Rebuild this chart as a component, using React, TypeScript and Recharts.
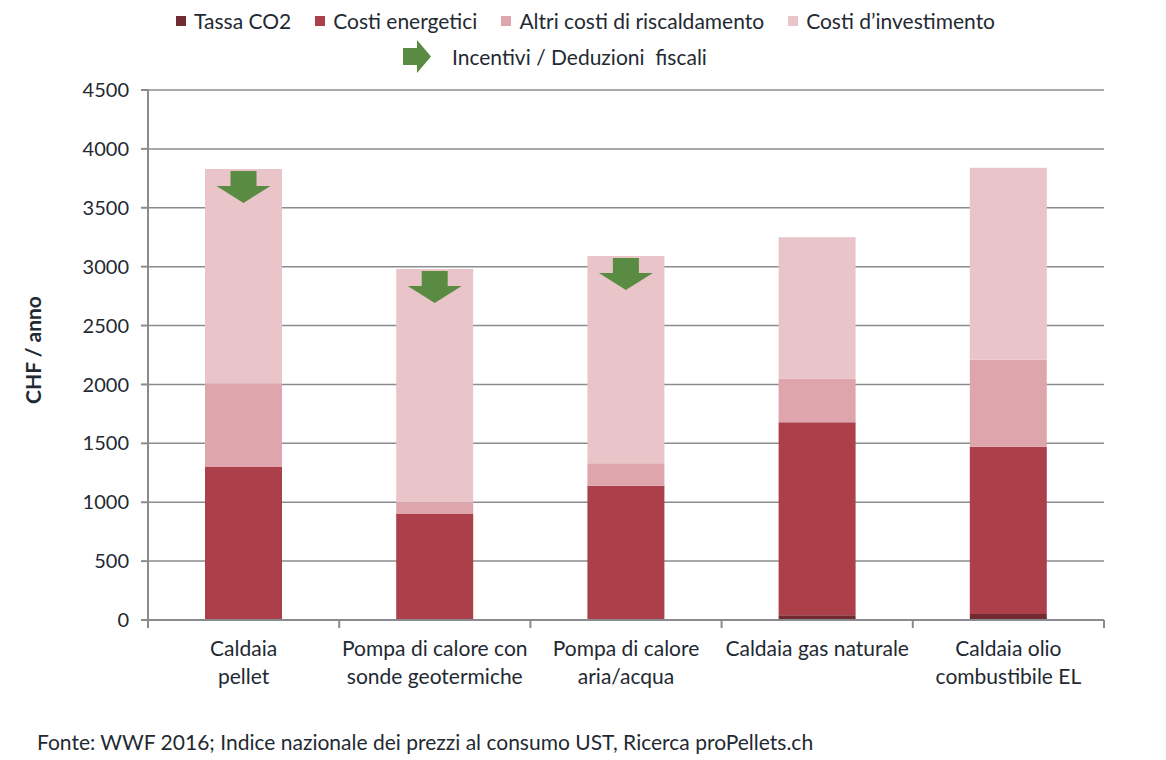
import React from "react";
import { BarChart, Bar, XAxis, YAxis, CartesianGrid, LabelList } from "recharts";

const categories = [
  "Caldaia\npellet",
  "Pompa di calore con\nsonde geotermiche",
  "Pompa di calore\naria/acqua",
  "Caldaia gas naturale",
  "Caldaia olio\ncombustibile EL",
];
const tassaCO2 = [0, 0, 0, 40, 50];
const costiEnergetici = [1300, 900, 1140, 1640, 1420];
const altriCosti = [710, 100, 190, 370, 740];
const costiInvestimento = [1820, 1980, 1760, 1200, 1630];
const incentivi = [true, true, true, false, false];
const yTicks = [0, 500, 1000, 1500, 2000, 2500, 3000, 3500, 4000, 4500];
// positions on a 0..5 axis: integers are the category edges, halves the category centres
const edgeTicks = [0, 0.5, 1, 1.5, 2, 2.5, 3, 3.5, 4, 4.5, 5];

const data = categories.map((name, i) => ({
  name,
  pos: i + 0.5,
  co2: tassaCO2[i],
  energia: costiEnergetici[i],
  altri: altriCosti[i],
  invest: costiInvestimento[i],
}));

const FONT = "Lato, 'Open Sans', sans-serif";
const TEXT = "#1f2a33";
const GRID = "#898b8e";
const GREEN = "#5a8b43";

const legendItems = [
  { label: "Tassa CO2", color: "#722a33" },
  { label: "Costi energetici", color: "#ab404b" },
  { label: "Altri costi di riscaldamento", color: "#dea6ac" },
  { label: "Costi d\u2019investimento", color: "#e9c5c9" },
];

function EdgeTick(props: any) {
  const { x, y, payload } = props;
  const v = Number(payload.value);
  if (Number.isInteger(v)) {
    return <line x1={x} x2={x} y1={y - 8} y2={y} stroke={GRID} strokeWidth={2} />;
  }
  const lines = categories[Math.floor(v)].split("\n");
  return (
    <text x={x} y={y + 28} textAnchor="middle" fill={TEXT} fontSize={21} fontFamily={FONT}>
      {lines.map((l, i) => (
        <tspan key={i} x={x} dy={i === 0 ? 0 : 28}>
          {l}
        </tspan>
      ))}
    </text>
  );
}

function ArrowLabel(props: any) {
  const { x, y, width, index } = props;
  if (!incentivi[index]) return null;
  const cx = x + width / 2;
  const top = y + 2;
  const pts = [
    [cx - 13, top],
    [cx + 13, top],
    [cx + 13, top + 15],
    [cx + 27, top + 15],
    [cx, top + 32],
    [cx - 27, top + 15],
    [cx - 13, top + 15],
  ]
    .map((p) => p.join(","))
    .join(" ");
  return <polygon points={pts} fill={GREEN} />;
}

export default function App() {
  return (
    <div style={{ position: "absolute", left: 0, top: 0, width: 1166, height: 760, background: "#fff", fontFamily: FONT, color: TEXT }}>
      <div style={{ position: "absolute", left: 176, top: 8, display: "flex", gap: 24, fontSize: 21, whiteSpace: "nowrap" }}>
        {legendItems.map((it) => (
          <div key={it.label} style={{ display: "flex", alignItems: "center", gap: 8 }}>
            <span style={{ display: "inline-block", width: 10, height: 10, background: it.color }} />
            <span>{it.label}</span>
          </div>
        ))}
      </div>
      <div style={{ position: "absolute", left: 403, top: 40, display: "flex", alignItems: "center", fontSize: 21, whiteSpace: "nowrap" }}>
        <svg width={28} height={33}>
          <polygon points="0,8 14,8 14,0 28,16.5 14,33 14,25 0,25" fill={GREEN} />
        </svg>
        <span style={{ marginLeft: 21 }}>Incentivi / Deduzioni&nbsp; fiscali</span>
      </div>
      <div
        style={{
          position: "absolute",
          left: 32,
          top: 350,
          transform: "translate(-50%, -50%) rotate(-90deg)",
          fontSize: 21,
          fontWeight: 700,
          whiteSpace: "nowrap",
        }}
      >
        CHF / anno
      </div>
      <div style={{ position: "absolute", left: 37, top: 729, fontSize: 21, whiteSpace: "nowrap" }}>
        Fonte: WWF 2016; Indice nazionale dei prezzi al consumo UST, Ricerca proPellets.ch
      </div>
      <BarChart
        width={1166}
        height={760}
        data={data}
        margin={{ top: 90, right: 62, left: 0, bottom: 80 }}
        style={{ position: "absolute", left: 0, top: 0 }}
      >
        <CartesianGrid horizontal vertical={false} stroke={GRID} strokeWidth={1.5} />
        <XAxis dataKey="name" hide height={0} />
        <XAxis
          xAxisId="edge"
          dataKey="pos"
          type="number"
          domain={[0, 5]}
          ticks={edgeTicks}
          interval={0}
          height={60}
          tick={<EdgeTick />}
          tickLine={false}
          axisLine={{ stroke: GRID, strokeWidth: 2 }}
          allowDataOverflow
        />
        <YAxis
          width={148}
          domain={[0, 4500]}
          ticks={yTicks}
          interval={0}
          tickSize={7}
          tickMargin={12}
          axisLine={{ stroke: GRID, strokeWidth: 2 }}
          tickLine={{ stroke: GRID, strokeWidth: 2 }}
          tick={{ fill: TEXT, fontSize: 20, fontFamily: FONT }}
        />
        <Bar dataKey="co2" stackId="a" fill="#722a33" barSize={77} isAnimationActive={false} />
        <Bar dataKey="energia" stackId="a" fill="#ab404b" barSize={77} isAnimationActive={false} />
        <Bar dataKey="altri" stackId="a" fill="#dea6ac" barSize={77} isAnimationActive={false} />
        <Bar dataKey="invest" stackId="a" fill="#e9c5c9" barSize={77} isAnimationActive={false}>
          <LabelList dataKey="invest" content={<ArrowLabel />} />
        </Bar>
      </BarChart>
    </div>
  );
}
